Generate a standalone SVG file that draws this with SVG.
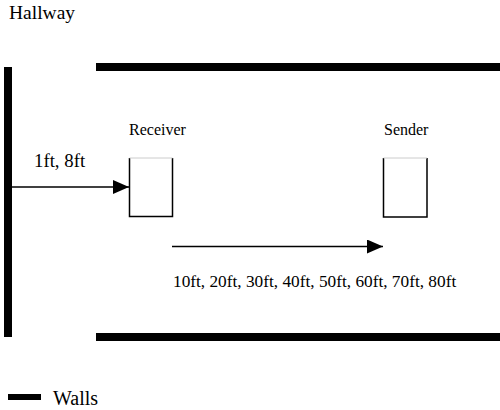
<svg xmlns="http://www.w3.org/2000/svg" width="500" height="410" viewBox="0 0 500 410">
<style>
text{font-family:"Liberation Serif","Times New Roman",serif;font-size:16px;fill:#000}
.wall{fill:#000}
.box{fill:#fff;stroke:#000;stroke-width:1.5}
.boxtop{stroke:#ccc;stroke-width:1}
.arr{stroke:#000;stroke-width:1.5;fill:none;marker-end:url(#ah)}
</style>
<defs>
<marker id="ah" viewBox="0 0 16 14" refX="16" refY="7" markerWidth="16" markerHeight="14" markerUnits="userSpaceOnUse" orient="auto">
<path d="M0,0 L16,7 L0,14 z" fill="#000"/>
</marker>
</defs>
<rect width="500" height="410" fill="#fff"/>
<g id="hallway-label"><text x="9" y="19" style="font-size:19.5px">Hallway</text></g>
<g id="walls">
<rect class="wall" x="4" y="67" width="8" height="270"/>
<rect class="wall" x="96" y="63" width="404" height="8"/>
<rect class="wall" x="96" y="333" width="404" height="8"/>
</g>
<g id="receiver">
<path class="box" d="M129.5,158 V216.5 H172.5 V158"/>
<line class="boxtop" x1="129.5" y1="158" x2="172.5" y2="158"/>
<text x="129" y="135">Receiver</text>
</g>
<g id="sender">
<path class="box" d="M383.5,158 V217 H427 V158"/>
<line class="boxtop" x1="383.5" y1="158" x2="427" y2="158"/>
<text x="384" y="135">Sender</text>
</g>
<g id="connectors">
<line class="arr" x1="12" y1="187" x2="129" y2="187"/>
<line class="arr" x1="172" y1="246.5" x2="383" y2="246.5"/>
</g>
<text x="34" y="166.5" style="font-size:18.8px">1ft, 8ft</text>
<text x="173" y="287" style="font-size:17.3px">10ft, 20ft, 30ft, 40ft, 50ft, 60ft, 70ft, 80ft</text>
<g id="legend">
<rect class="wall" x="8" y="394" width="33" height="6"/>
<text x="53" y="405" style="font-size:20px">Walls</text>
</g>
</svg>
